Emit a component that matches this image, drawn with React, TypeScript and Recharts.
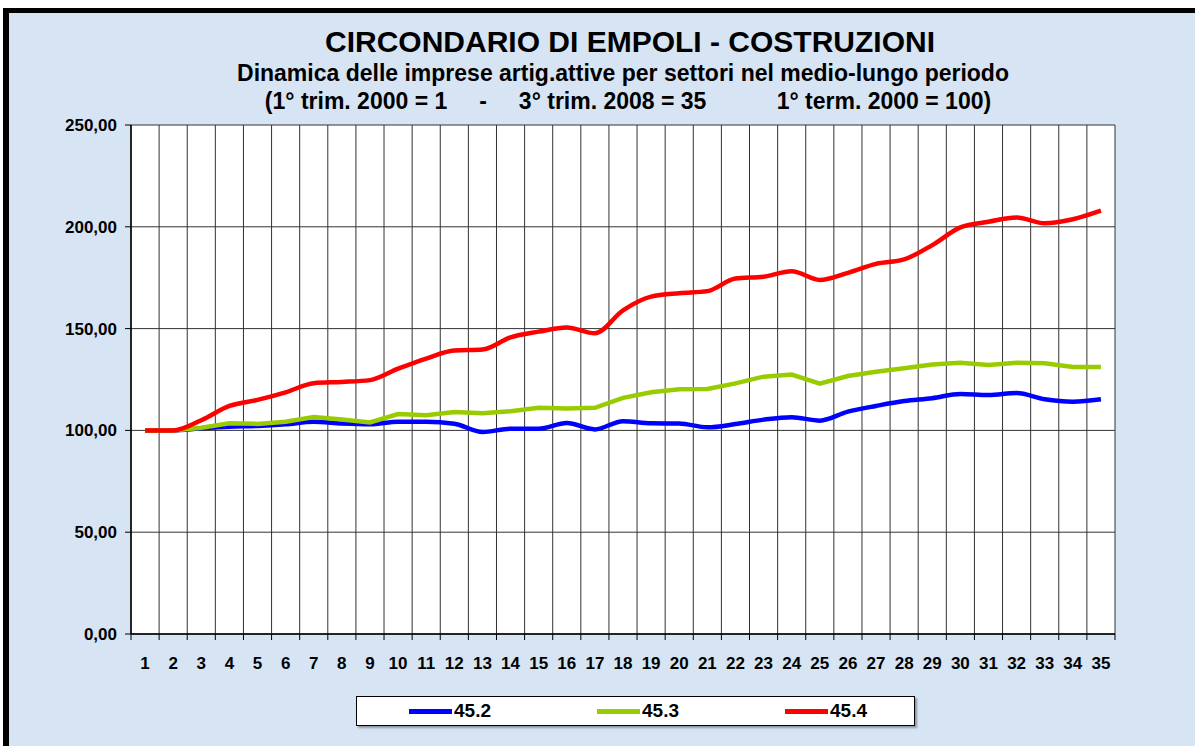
import React from 'react';
import { LineChart, Line, XAxis, YAxis, CartesianGrid } from 'recharts';

const quarters = [1, 2, 3, 4, 5, 6, 7, 8, 9, 10, 11, 12, 13, 14, 15, 16, 17, 18, 19, 20, 21, 22, 23, 24, 25, 26, 27, 28, 29, 30, 31, 32, 33, 34, 35];
const serie452 = [100, 100, 101, 101.8, 102.2, 103, 104.2, 103.4, 103, 104.2, 104.2, 103.3, 99.2, 100.8, 100.8, 103.6, 100.5, 104.5, 103.5, 103.4, 101.5, 103.1, 105.3, 106.5, 104.8, 109.2, 112, 114.4, 115.8, 117.9, 117.4, 118.4, 115.3, 114.1, 115.3];
const serie453 = [100, 100, 101.3, 103.5, 103.2, 104.3, 106.6, 105.4, 103.9, 108, 107.5, 109, 108.4, 109.4, 111.1, 110.8, 111.1, 116, 118.7, 120.2, 120.3, 123.1, 126.4, 127.4, 123, 126.7, 128.8, 130.5, 132.4, 133.2, 132.1, 133.2, 133, 131.1, 131.2];
const serie454 = [100, 100, 105, 112, 115, 118.7, 123.2, 123.8, 124.7, 130.3, 135.3, 139.2, 139.7, 145.7, 148.5, 150.6, 147.7, 159, 165.7, 167.4, 168.4, 174.6, 175.5, 178.2, 173.9, 177.4, 181.8, 184, 191, 199.7, 202.5, 204.6, 201.7, 203.7, 207.9];
const yTicks = [0, 50, 100, 150, 200, 250];
const seriesKeys = ['s452', 's453', 's454'];
const seriesNames = ['45.2', '45.3', '45.4'];
const seriesColors = ['#0000FF', '#99CC00', '#FF0000'];
const seriesTypes = ['monotone', 'linear', 'monotone'];
const titleText = 'CIRCONDARIO DI EMPOLI - COSTRUZIONI';
const subtitleText = 'Dinamica delle imprese artig.attive per settori nel medio-lungo periodo';
const subtitle2Text = '(1° trim. 2000 = 1     -     3° trim. 2008 = 35           1° term. 2000 = 100)';

const data = quarters.map((q, i) => ({ q, s452: serie452[i], s453: serie453[i], s454: serie454[i] }));
const boundaries = [...quarters.map((q) => q - 0.5), quarters[quarters.length - 1] + 0.5];
const allXTicks = [...boundaries, ...quarters].sort((a, b) => a - b);

const FONT = 'Arial, "Liberation Sans", sans-serif';

const XTick = (props: any) => {
  const { x, y, payload } = props;
  const v = payload.value;
  if (Math.abs(v - Math.round(v)) > 0.01) {
    return <line x1={x} x2={x} y1={y - 6} y2={y} stroke="#000" strokeWidth={1} />;
  }
  return (
    <text x={x} y={y + 17} dy="0.71em" textAnchor="middle" fontFamily={FONT} fontWeight="bold" fontSize={17} fill="#000">
      {v}
    </text>
  );
};

export default function App() {
  return (
    <div style={{ position: 'fixed', left: 0, top: 0, width: 1195, height: 746, background: '#fff', overflow: 'hidden' }}>
      <div
        style={{
          position: 'absolute',
          left: 3,
          top: 8,
          width: 1200,
          height: 760,
          background: '#D6E4F4',
          borderLeft: '6px solid #000',
          borderTop: '5px solid #000',
          boxSizing: 'border-box',
        }}
      />
      <div style={{ position: 'absolute', left: 130, top: 27, width: 1000, textAlign: 'center', fontFamily: FONT, fontWeight: 'bold', fontSize: 30, lineHeight: '30px', color: '#000', whiteSpace: 'pre' }}>
        {titleText}
      </div>
      <div style={{ position: 'absolute', left: 123, top: 62, width: 1000, textAlign: 'center', fontFamily: FONT, fontWeight: 'bold', fontSize: 23, lineHeight: '23px', color: '#000', whiteSpace: 'pre' }}>
        {subtitleText}
      </div>
      <div style={{ position: 'absolute', left: 128, top: 90, width: 1000, textAlign: 'center', fontFamily: FONT, fontWeight: 'bold', fontSize: 23, lineHeight: '23px', color: '#000', whiteSpace: 'pre' }}>
        {subtitle2Text}
      </div>
      <div style={{ position: 'absolute', left: 0, top: 0 }}>
        <LineChart width={1195} height={746} data={data} margin={{ top: 125, right: 80, bottom: 72, left: 0 }}>
          <CartesianGrid stroke="#333" fill="#fff" fillOpacity={1} xAxisId="grid" />
          <XAxis
            xAxisId="grid"
            dataKey="q"
            type="number"
            domain={[0.5, 35.5]}
            ticks={boundaries}
            interval={0}
            hide
            allowDecimals
          />
          <XAxis
            dataKey="q"
            type="number"
            domain={[0.5, 35.5]}
            ticks={allXTicks}
            interval={0}
            tickLine={false}
            tickSize={6}
            tickMargin={0}
            axisLine={{ stroke: '#000', strokeWidth: 1.5 }}
            tick={<XTick />}
            height={40}
            allowDecimals
          />
          <YAxis
            domain={[0, 250]}
            ticks={yTicks}
            interval={0}
            width={131}
            tickSize={6}
            tickMargin={8}
            axisLine={{ stroke: '#000', strokeWidth: 1.5 }}
            tickLine={{ stroke: '#000' }}
            tick={{ fontFamily: FONT, fontWeight: 'bold', fontSize: 17, fill: '#000' }}
            tickFormatter={(v: number) => v.toFixed(2).replace('.', ',')}
          />
          {seriesKeys.map((k, i) => (
            <Line
              key={k}
              dataKey={k}
              name={seriesNames[i]}
              type={seriesTypes[i] as any}
              stroke={seriesColors[i]}
              strokeWidth={4.5}
              dot={false}
              activeDot={false}
              isAnimationActive={false}
            />
          ))}
        </LineChart>
      </div>
      <div
        style={{
          position: 'absolute',
          left: 356,
          top: 696,
          width: 559,
          height: 30,
          background: '#fff',
          border: '1px solid #000',
          boxShadow: '2px 2px 2px rgba(0,0,0,0.35)',
          boxSizing: 'border-box',
        }}
      >
        {seriesNames.map((n, i) => (
          <div key={n} style={{ position: 'absolute', left: 52 + i * 188, top: 0, height: 28, display: 'flex', alignItems: 'center' }}>
            <div style={{ width: 43, height: 5, background: seriesColors[i] }} />
            <span style={{ marginLeft: 2, fontFamily: FONT, fontWeight: 'bold', fontSize: 19, color: '#000' }}>{n}</span>
          </div>
        ))}
      </div>
    </div>
  );
}
